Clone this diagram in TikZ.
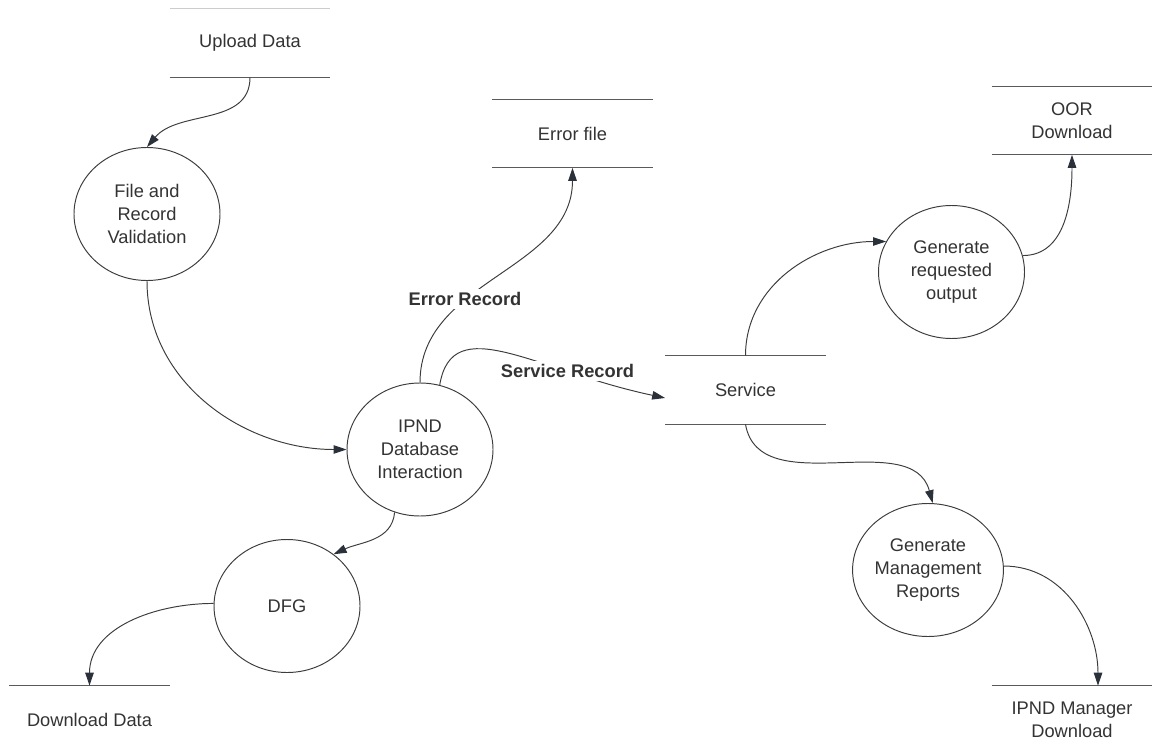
\documentclass[tikz,border=0pt]{standalone}
\usepackage{fontspec}
\setmainfont{Liberation Sans}
\usepackage{xcolor}
\usepackage{tikz}
\usetikzlibrary{arrows.meta,positioning,shapes.geometric}

\definecolor{inkgray}{HTML}{333333}
\definecolor{edgegray}{HTML}{3C3C3C}
\definecolor{storegray}{HTML}{5A5A5A}
\definecolor{tipgray}{HTML}{2B313B}

\begin{document}
\begin{tikzpicture}[
    font=\fontsize{10.4}{13}\selectfont,
    text=inkgray,
    proc/.style={draw=edgegray, line width=0.55pt, ellipse, inner sep=0pt, align=center, minimum width=2.92cm, minimum height=2.66cm},
    store/.style={align=center, minimum width=3.2cm, minimum height=1.36cm, inner sep=0pt},
    storeline/.style={draw=storegray, line width=0.6pt},
    flow/.style={-{Triangle[length=2.6mm, width=1.7mm, color=tipgray]}, draw=edgegray, line width=0.55pt},
    flowlabel/.style={fill=white, inner sep=2pt, font=\fontsize{10.4}{13}\selectfont\bfseries}
]
\useasboundingbox (0,0) rectangle (23.18,-15.1);
% data stores
\node[store] (up) at (5.0,-0.86) {Upload Data};
\node[store] (err) at (11.45,-2.67) {Error file};
\node[store] (oor) at (21.44,-2.41) {OOR\\Download};
\node[store] (svc) at (14.91,-7.8) {Service};
\node[store] (dl) at (1.79,-14.4) {Download Data};
\node[store] (ipm) at (21.44,-14.4) {IPND Manager\\Download};
\draw[storeline, draw=black!20] (up.north west) -- (up.north east);
\draw[storeline] (up.south west) -- (up.south east);
\draw[storeline] (err.north west) -- (err.north east);
\draw[storeline] (err.south west) -- (err.south east);
\draw[storeline] (oor.north west) -- (oor.north east);
\draw[storeline] (oor.south west) -- (oor.south east);
\draw[storeline] (svc.north west) -- (svc.north east);
\draw[storeline] (svc.south west) -- (svc.south east);
\draw[storeline] (dl.north west) -- (dl.north east);
\draw[storeline] (ipm.north west) -- (ipm.north east);
% processes
\node[proc] (fv) at (2.94,-4.28) {File and\\Record\\Validation};
\node[proc] (ipnd) at (8.4,-8.99) {IPND\\Database\\Interaction};
\node[proc] (dfg) at (5.74,-12.12) {DFG};
\node[proc] (gro) at (19.03,-5.44) {Generate\\requested\\output};
\node[proc] (gmr) at (18.56,-11.4) {Generate\\Management\\Reports};
% flows
\draw[flow] (up.south) to[out=-90, in=50] (fv.north);
\draw[flow] (fv.south) to[out=-90, in=180] (ipnd.west);
\draw[flow] (ipnd.north) to[out=90, in=-90] node[flowlabel, pos=0.36] {Error Record} (err.south);
\draw[flow] (ipnd.73) .. controls +(0.25,1.5) and +(-2.6,0.55) .. node[flowlabel, pos=0.72] {Service Record} ([yshift=-0.16cm]svc.west);
\draw[flow] (ipnd.-112) to[out=-95, in=25] (dfg.48);
\draw[flow] (dfg.178) to[out=180, in=90] (dl.north);
\draw[flow] (svc.north) to[out=90, in=180] (gro.155);
\draw[flow] (gro.13) to[out=0, in=-90] (oor.south);
\draw[flow] (svc.south) to[out=-80, in=105] (gmr.86);
\draw[flow] (gmr.3) to[out=0, in=90] ([xshift=0.52cm]ipm.north);
\end{tikzpicture}
\end{document}
